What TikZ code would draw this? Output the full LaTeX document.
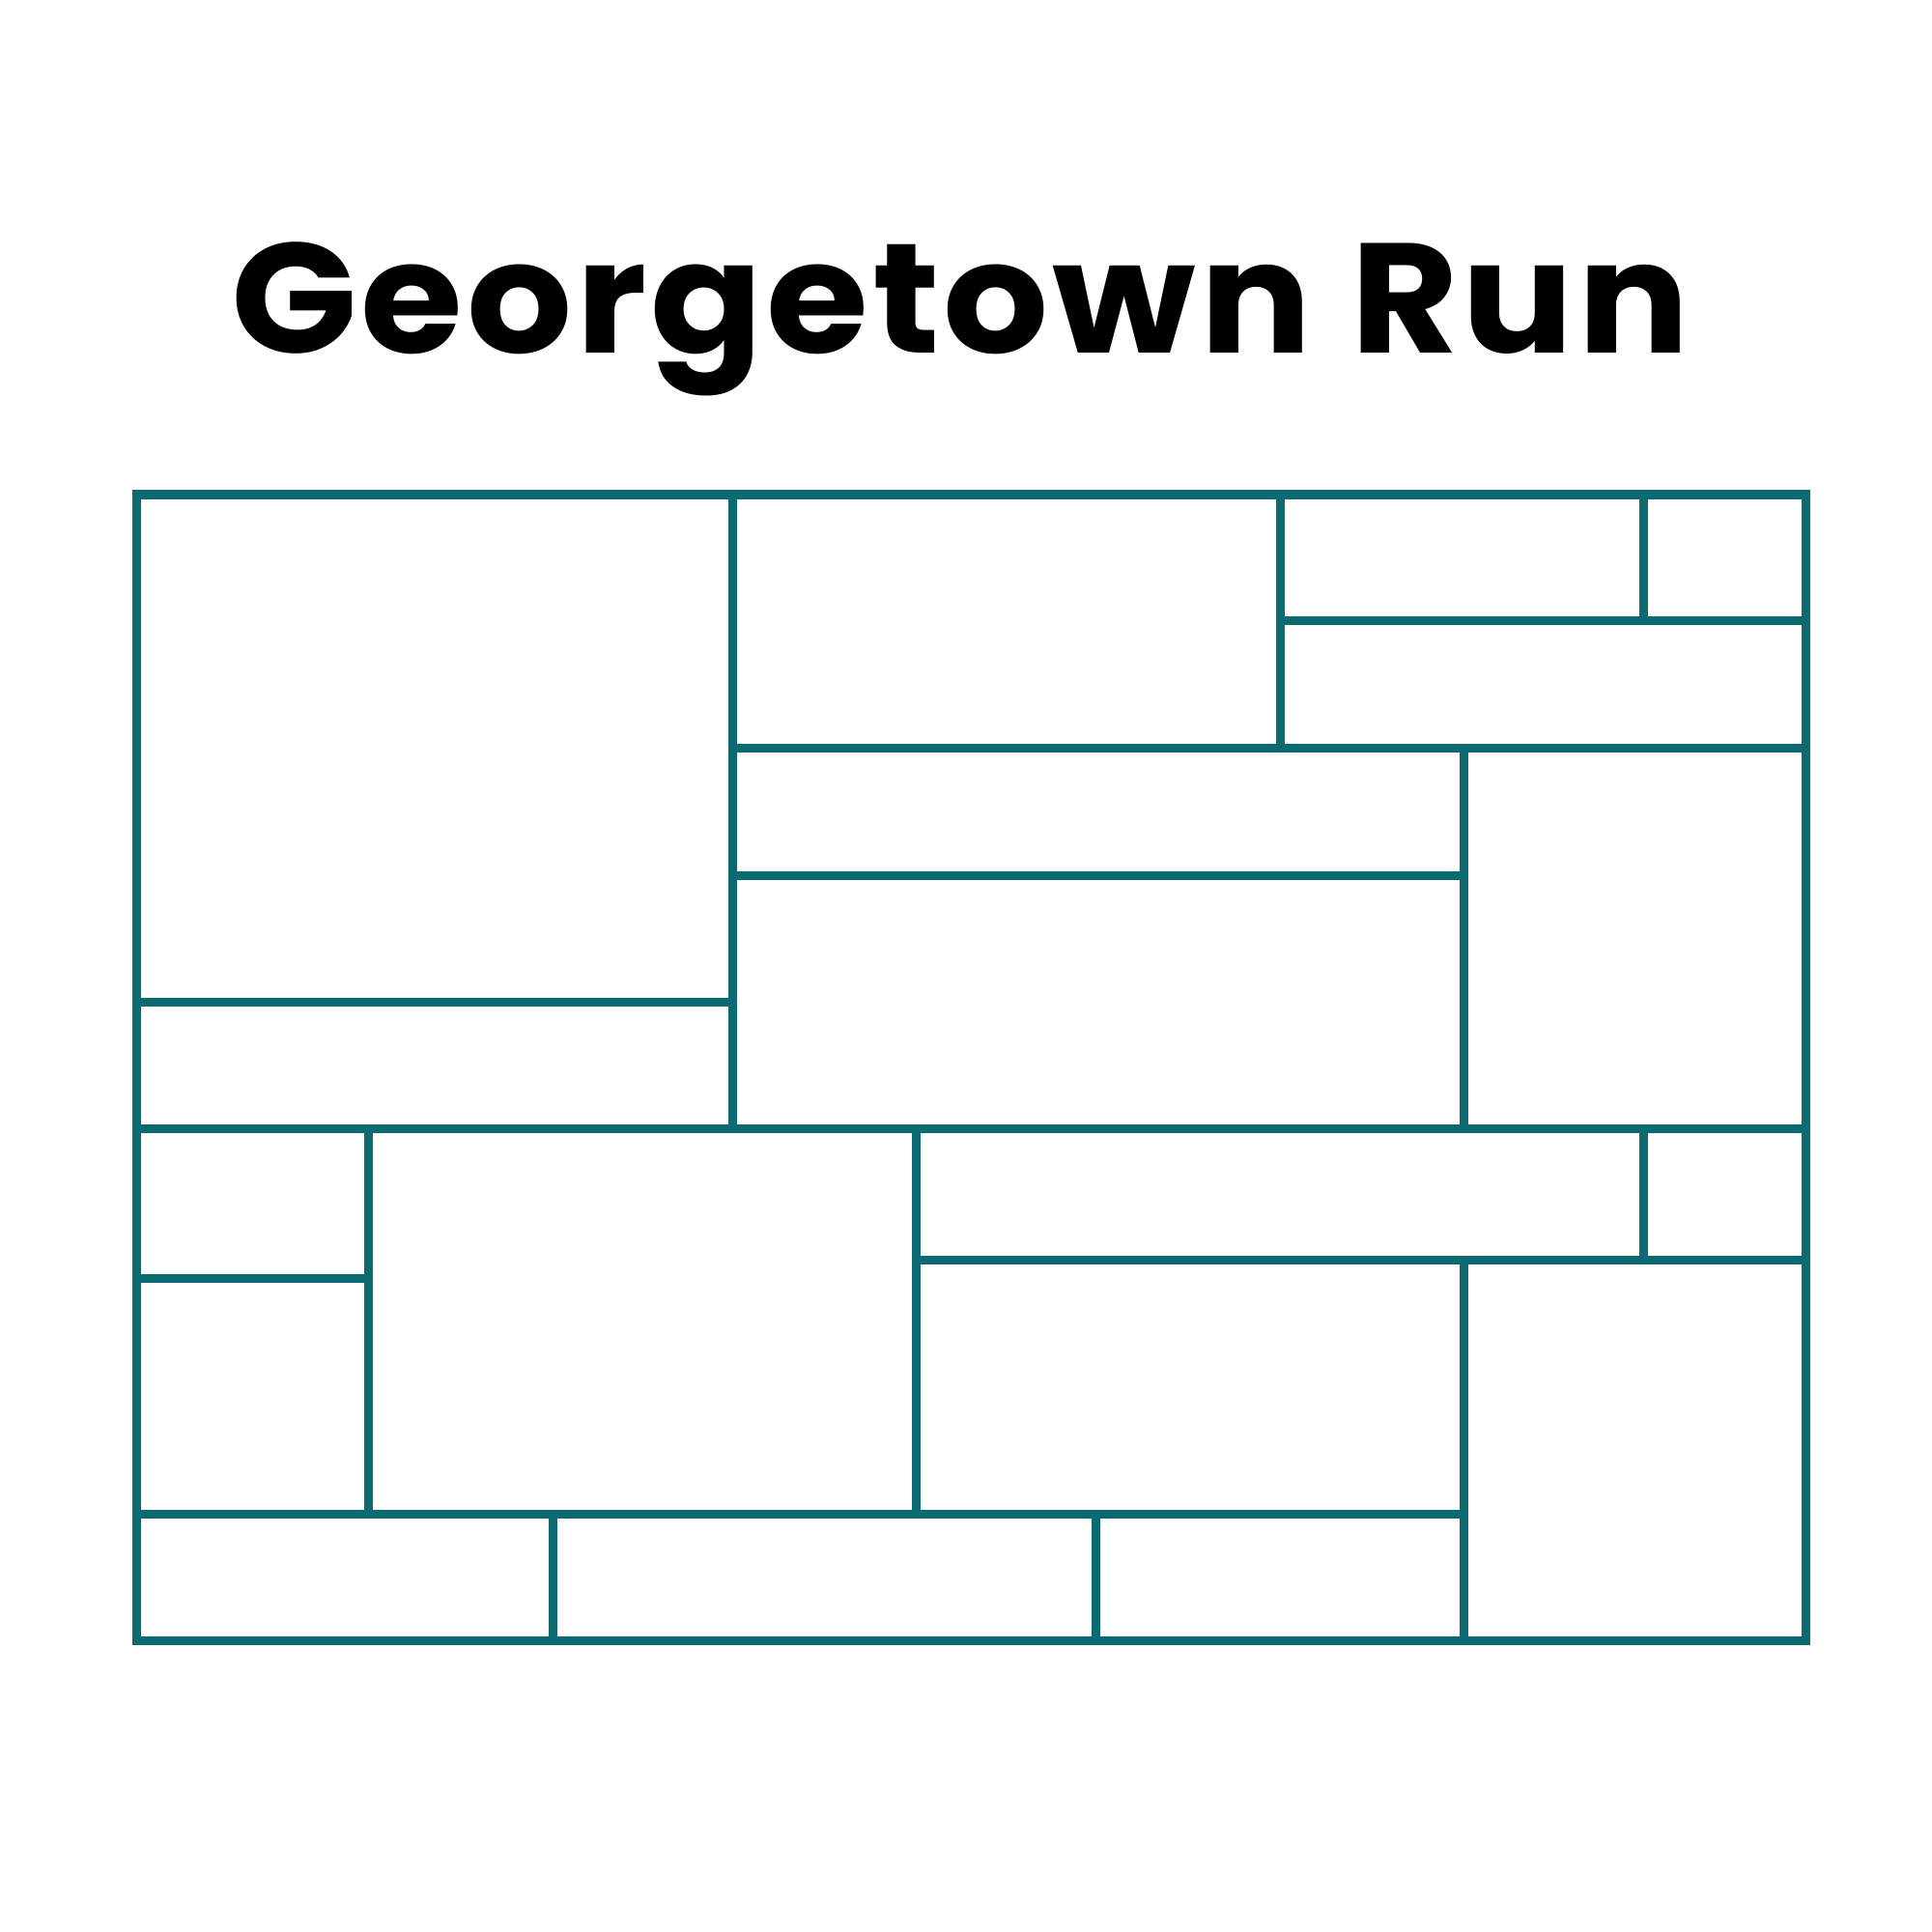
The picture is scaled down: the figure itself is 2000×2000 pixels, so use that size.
\documentclass[tikz,border=0pt]{standalone}
\usepackage{fontspec}
\usepackage{xcolor}
\usetikzlibrary{positioning}
\newfontfamily\titlefont{Poppins}[FakeStretch=1.06, LetterSpace=2.4]
\definecolor{tealline}{RGB}{12,106,114}

\begin{document}
\begin{tikzpicture}[x=0.01cm, y=-0.01cm]
	\tikzset{
		frame/.style={fill=tealline},
		tile/.style={fill=white},
		title/.style={font=\titlefont\bfseries\fontsize{46}{50}\selectfont, anchor=base, inner sep=0pt}
	}
	\useasboundingbox[fill=white] (0,0) rectangle (2000,2000);
	
	\node[title] (title) at (994,365) {Georgetown Run};
	
	% teal frame, the tiles leave the joints open
	\fill[frame] (136.5,507) rectangle (1873.5,1702.5);
	\foreach \xa/\ya/\xb/\yb in {
			141/512/758/1037.5, 141/1037.5/758/1168,
			758/512/1325/774.5, 1325/512/1701/642.5, 1701/512/1869/642.5,
			1325/642.5/1869/774.5, 758/774.5/1515/906, 758/906/1515/1168,
			1515/774.5/1869/1168,
			141/1168/381.5/1323, 141/1323/381.5/1567.5, 381.5/1168/948.5/1567.5,
			948.5/1168/1701/1304.5, 1701/1168/1869/1304.5, 948.5/1304.5/1515/1567.5,
			1515/1304.5/1869/1698,
			141/1567.5/572.5/1698, 572.5/1567.5/1134/1698, 1134/1567.5/1515/1698}
		\fill[tile] (\xa+4.5,\ya+4.5) rectangle (\xb-4.5,\yb-4.5);
	
\end{tikzpicture}
\end{document}
